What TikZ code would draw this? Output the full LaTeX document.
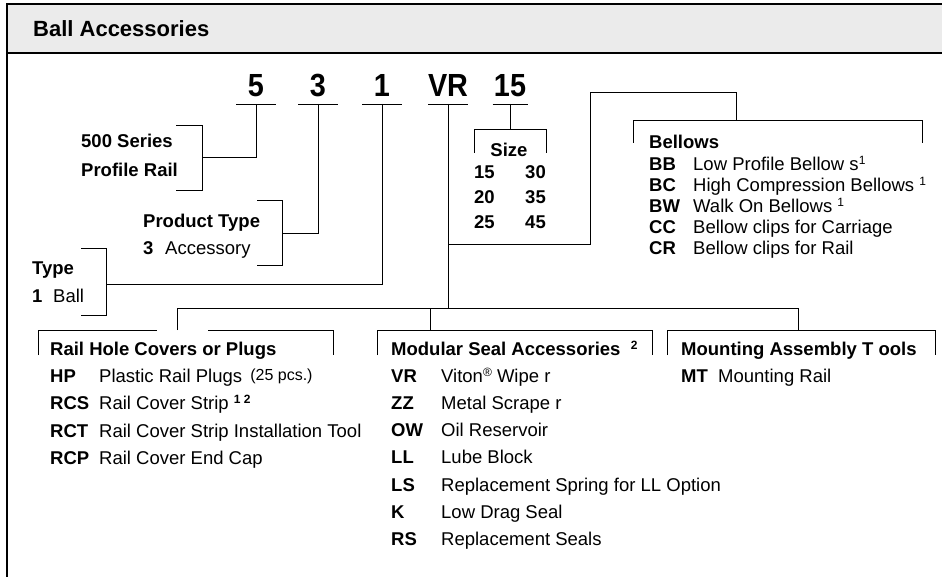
\documentclass[tikz,border=0pt]{standalone}
\usepackage{fontspec}
\setmainfont{Liberation Sans}
\newfontfamily\digitfont{Liberation Sans}[FakeStretch=0.9]
\usetikzlibrary{positioning}

\definecolor{headgray}{HTML}{EBEBEB}

% small raised footnote marks
\newcommand{\fnmark}[1]{\raisebox{6pt}{\fontsize{12}{12}\selectfont #1}}

\tikzset{
  outline/.style   = {line width=1.6pt},
  branch/.style    = {line width=0.9pt},
  codedigit/.style = {font=\digitfont\fontsize{32}{32}\selectfont\bfseries,
                      anchor=base, inner sep=0pt},
  listhead/.style  = {font=\fontsize{18.5}{18.5}\selectfont\bfseries,
                      anchor=base west, inner sep=0pt},
  item/.style      = {font=\fontsize{18.5}{18.5}\selectfont,
                      anchor=base west, inner sep=0pt},
  itemcode/.style  = {font=\fontsize{18.5}{18.5}\selectfont\bfseries,
                      anchor=base west, inner sep=0pt},
}

\begin{document}
\begin{tikzpicture}[x=1pt, y=-1pt]

  % Page size and the header band

  \useasboundingbox (0,0) rectangle (942,577);
  \fill[headgray] (7,4) rectangle (942,53);
  \draw[outline] (942,4) -- (7,4) -- (7,577);
  \draw[outline] (7,53) -- (942,53);
  \node[anchor=base west, inner sep=0pt,
        font=\fontsize{22}{22}\selectfont\bfseries] (title) at (33,37)
        {Ball Accessories};

  % The part number, each field underlined;
  %   the coordinate under each field starts its connector

  \foreach \name/\txt/\x/\w in {five/5/256/20, three/3/318/20, one/1/382/20,
                                vr/VR/448/20, size/15/510/17.5}
  {
    \node[codedigit] (\name txt) at (\x,97) {\txt};
    \draw[branch] (\x-\w,104) -- (\x+\w,104);
    \coordinate (\name) at (\x,104);
  }

  % Series bracket

  \coordinate (seriesbr) at (202,157);
  \draw[branch] (five) |- (seriesbr);
  \draw[branch] (176,125) -- (202,125) -- (202,190) -- (176,190);
  \node[listhead] (series1) at (81,148) {500 Series};
  \node[listhead] (series2) at (81,177) {Profile Rail};

  % Product type bracket

  \coordinate (productbr) at (282,233);
  \draw[branch] (three) |- (productbr);
  \draw[branch] (257,200) -- (282,200) -- (282,265) -- (257,265);
  \node[listhead] (product) at (143,228) {Product Type};
  \node[itemcode] (product3) at (143,255) {3};
  \node[item] (productacc) at (165,255) {Accessory};

  % Type bracket

  \coordinate (typebr) at (106,284);
  \draw[branch] (one) |- (typebr);
  \draw[branch] (81,248) -- (106,248) -- (106,315) -- (81,315);
  \node[listhead] (type) at (32,275) {Type};
  \node[itemcode] (type1) at (32,302) {1};
  \node[item] (typeball) at (53,302) {Ball};

  % Size table

  \coordinate (sizebr) at (510,129);
  \draw[branch] (size) -- (sizebr);
  \draw[branch] (474,153) -- (474,129) -- (546,129) -- (546,153);
  \node[listhead, anchor=base] (sizehead) at (509,157) {Size};
  \foreach \a/\b [count=\i] in {15/30, 20/35, 25/45}
  {
    \node[itemcode] (sizel\i) at (474,{154+25*\i}) {\a};
    \node[itemcode, anchor=base east] (sizer\i) at (546,{154+25*\i}) {\b};
  }

  % Accessory trunk: bellows on the right, the rest below

  \coordinate (trunk) at (448,308);
  \coordinate (bellowsbr) at (736,120);
  \draw[branch] (vr) -- (trunk);
  \draw[branch] (448,244) -- (590,244) -- (590,92) -- (736,92) -- (bellowsbr);

  % Bellows

  \draw[branch] (633,143) -- (633,120) -- (922,120) -- (922,143);
  \node[listhead] (bellows) at (649,149) {Bellows};
  \foreach \code/\desc [count=\i] in {
      BB/{Low Profile Bellow s\fnmark{1}},
      BC/{High Compression Bellows \fnmark{1}},
      BW/{Walk On Bellows \fnmark{1}},
      CC/{Bellow clips for Carriage},
      CR/{Bellow clips for Rail}}
  {
    \node[itemcode] (belcode\i) at (649,{150+21*\i}) {\code};
    \node[item] (beldesc\i) at (693,{150+21*\i}) {\desc};
  }

  % Branches to the three lower groups

  \coordinate (railbr) at (177,330);
  \coordinate (sealbr) at (430,330);
  \coordinate (mountbr) at (798,330);
  \draw[branch] (railbr) -- (177,308) -- (798,308) -- (mountbr);
  \draw[branch] (sealbr) -- (430,308);

  % Rail hole covers

  \draw[branch] (38,355) -- (38,330) -- (157,330);
  \draw[branch] (208,330) -- (333,330) -- (333,355);
  \node[listhead] (railhead) at (50,355) {Rail Hole Covers or Plugs};
  \foreach \code/\desc [count=\i] in {
      HP/{Plastic Rail Plugs \,\raisebox{2pt}{\fontsize{16}{16}\selectfont (25 pcs.)}},
      RCS/{Rail Cover Strip \fnmark{\bfseries 1 2}},
      RCT/{Rail Cover Strip Installation Tool},
      RCP/{Rail Cover End Cap}}
  {
    \node[itemcode] (railcode\i) at (50,{354.5+27.5*\i}) {\code};
    \node[item] (raildesc\i) at (99,{354.5+27.5*\i}) {\desc};
  }

  % Modular seal accessories

  \draw[branch] (377,355) -- (377,330) -- (652,330) -- (652,355);
  \node[listhead] (sealhead) at (391,355)
        {Modular Seal Accessories \ \fnmark{2}};
  \foreach \code/\desc [count=\i] in {
      VR/{Viton\fnmark{®}\ Wipe r},
      ZZ/{Metal Scrape r},
      OW/{Oil Reservoir},
      LL/{Lube Block},
      LS/{Replacement Spring for LL Option},
      K/{Low Drag Seal},
      RS/{Replacement Seals}}
  {
    \node[itemcode] (sealcode\i) at (391,{355+27.2*\i}) {\code};
    \node[item] (sealdesc\i) at (441,{355+27.2*\i}) {\desc};
  }

  % Mounting tools

  \draw[branch] (667,355) -- (667,330) -- (935,330) -- (935,355);
  \node[listhead] (mounthead) at (681,355) {Mounting Assembly T ools};
  \node[itemcode] (mountcode) at (681,382) {MT};
  \node[item] (mountdesc) at (718,382) {Mounting Rail};

\end{tikzpicture}
\end{document}
